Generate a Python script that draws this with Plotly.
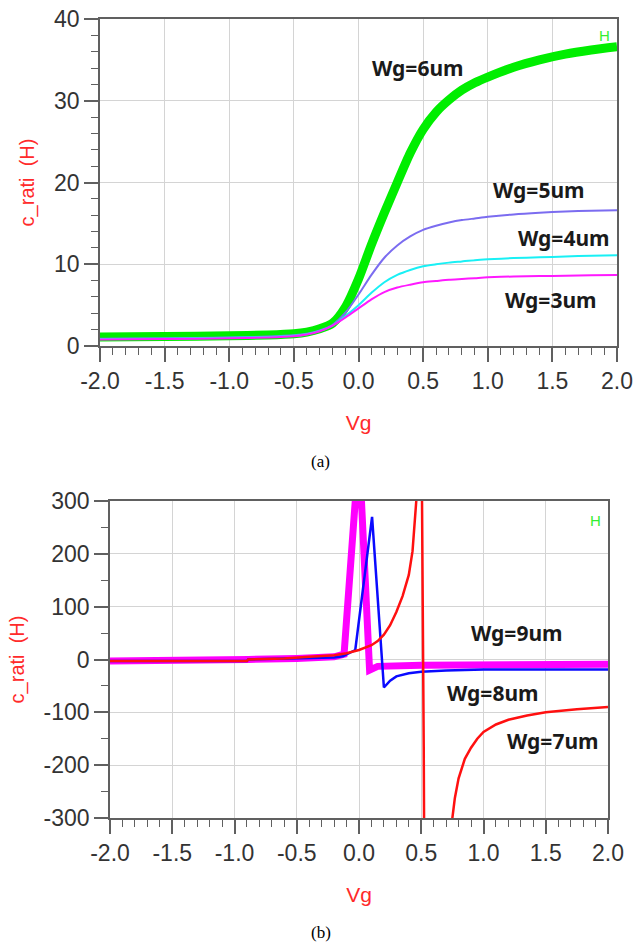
import plotly.graph_objects as go

# ---------------- data: panel (a) ----------------
vg_a = [-2.0, -1.5, -1.0, -0.7, -0.5, -0.4, -0.3, -0.2, -0.1, 0.0, 0.1, 0.2, 0.3,
        0.4, 0.5, 0.6, 0.7, 0.8, 0.9, 1.0, 1.2, 1.4, 1.6, 1.8, 2.0]
c_wg6 = [1.1, 1.15, 1.25, 1.35, 1.5, 1.7, 2.1, 2.8, 4.8, 8.2, 12.4, 16.3, 20.0,
         23.6, 26.5, 28.6, 30.1, 31.3, 32.2, 32.9, 34.1, 35.0, 35.7, 36.2, 36.6]
c_wg5 = [0.9, 0.95, 1.05, 1.15, 1.3, 1.5, 1.9, 2.6, 4.1, 6.3, 8.7, 10.8, 12.3,
         13.4, 14.2, 14.7, 15.1, 15.4, 15.6, 15.8, 16.1, 16.3, 16.45, 16.55, 16.6]
c_wg4 = [0.85, 0.9, 1.0, 1.1, 1.25, 1.45, 1.85, 2.5, 3.7, 5.0, 6.5, 7.8, 8.7,
         9.3, 9.75, 10.0, 10.2, 10.35, 10.5, 10.6, 10.75, 10.85, 10.95, 11.05, 11.1]
c_wg3 = [0.8, 0.85, 0.95, 1.05, 1.2, 1.4, 1.8, 2.5, 3.5, 4.6, 5.7, 6.6, 7.15,
         7.5, 7.8, 7.95, 8.1, 8.2, 8.3, 8.4, 8.5, 8.55, 8.6, 8.65, 8.7]

# ---------------- data: panel (b) ----------------
vg_wg9 = [-2.0, -0.9, -0.89, -0.5, -0.2, -0.12, 0.0, 0.085, 0.15, 0.5, 1.0, 2.0]
c_wg9 = [-3, -3, 0, 2, 5, 10, 397, -20, -13, -11, -10, -9]

vg_wg8 = [-2.0, -0.9, -0.89, -0.5, -0.2, -0.13, -0.03, 0.105, 0.2, 0.25, 0.3,
          0.4, 0.5, 0.7, 1.0, 1.5, 2.0]
c_wg8 = [-3, -3, 0, 2, 4, 6, 18, 270, -53, -40, -32, -26, -23, -21, -19, -19, -19]

vg_wg7 = [-2.0, -0.9, -0.89, -0.6, -0.4, -0.2, -0.1, 0.0, 0.1, 0.15, 0.2, 0.25,
          0.3, 0.35, 0.4, 0.43, 0.46, 0.50, 0.52, 0.54, 0.6, 0.7, 0.75, 0.77,
          0.8, 0.85, 0.9, 0.95, 1.0, 1.1, 1.2, 1.35, 1.5, 1.75, 2.0]
c_wg7 = [-3, -3, 0, 2, 5, 8, 12, 18, 27, 35, 47, 65, 90, 120, 160, 205, 300, 510,
         -170, -1200, -800, -420, -300, -262, -225, -188, -167, -150, -137, -123,
         -114, -106, -100, -94, -90]

# ---------------- ticks ----------------
x_tickvals = [-2.0, -1.5, -1.0, -0.5, 0.0, 0.5, 1.0, 1.5, 2.0]
x_ticktext = ["-2.0", "-1.5", "-1.0", "-0.5", "0.0", "0.5", "1.0", "1.5", "2.0"]
ya_tickvals = [0, 10, 20, 30, 40]
ya_ticktext = ["0", "10", "20", "30", "40"]
yb_tickvals = [-300, -200, -100, 0, 100, 200, 300]
yb_ticktext = ["-300", "-200", "-100", "0", "100", "200", "300"]

W, H = 635, 947
AXC = "#606060"
GRID = "#d4d4d4"
TICKFONT = dict(family="Liberation Sans, Arial", size=23, color="#333333")
TITLEFONT = dict(family="Liberation Sans, Arial", size=21, color="#ff2a2a")
LBLFONT = dict(family="Noto Sans, Liberation Sans, Arial", size=21, color="#1a1a1a")
HFONT = dict(family="Liberation Sans, Arial", size=15, color="#33ee33")

fig = go.Figure()

# panel (a) traces
spl = dict(shape="spline", smoothing=0.7)
fig.add_trace(go.Scatter(x=vg_a, y=c_wg6, mode="lines", line=dict(color="#00ee00", width=9, **spl),
                         xaxis="x", yaxis="y", name="Wg=6um"))
fig.add_trace(go.Scatter(x=vg_a, y=c_wg5, mode="lines", line=dict(color="#7b6cf0", width=2, **spl),
                         xaxis="x", yaxis="y", name="Wg=5um"))
fig.add_trace(go.Scatter(x=vg_a, y=c_wg4, mode="lines", line=dict(color="#19f0f5", width=2, **spl),
                         xaxis="x", yaxis="y", name="Wg=4um"))
fig.add_trace(go.Scatter(x=vg_a, y=c_wg3, mode="lines", line=dict(color="#ff19ff", width=2, **spl),
                         xaxis="x", yaxis="y", name="Wg=3um"))

# panel (b) traces
fig.add_trace(go.Scatter(x=vg_wg9, y=c_wg9, mode="lines", line=dict(color="#ff00ff", width=7),
                         xaxis="x2", yaxis="y2", name="Wg=9um"))
fig.add_trace(go.Scatter(x=vg_wg8, y=c_wg8, mode="lines", line=dict(color="#0a0aff", width=2.5),
                         xaxis="x2", yaxis="y2", name="Wg=8um"))
fig.add_trace(go.Scatter(x=vg_wg7, y=c_wg7, mode="lines", line=dict(color="#ff1010", width=2.5),
                         xaxis="x2", yaxis="y2", name="Wg=7um"))


def xaxis_cfg(domain, anchor):
    return dict(domain=domain, anchor=anchor, range=[-2, 2], tickmode="array",
                tickvals=x_tickvals, ticktext=x_ticktext, ticks="outside", ticklen=14,
                tickwidth=1.5, tickcolor=AXC, showline=True, linecolor=AXC, linewidth=1.5,
                mirror=True, showgrid=True, gridcolor=GRID, gridwidth=1.2, zeroline=False,
                tickfont=TICKFONT, automargin=False,
                minor=dict(tick0=-2, dtick=0.1, ticks="outside", ticklen=7, tickwidth=1.2,
                           tickcolor=AXC, showgrid=False),
                title=dict(text="Vg", font=TITLEFONT, standoff=22))


def yaxis_cfg(domain, anchor, rng, tv, tt, minor_dtick, minor_tick0):
    return dict(domain=domain, anchor=anchor, range=rng, tickmode="array",
                tickvals=tv, ticktext=tt, ticks="outside", ticklen=14,
                tickwidth=1.5, tickcolor=AXC, showline=True, linecolor=AXC, linewidth=1.5,
                mirror=True, showgrid=True, gridcolor=GRID, gridwidth=1.2, zeroline=False,
                tickfont=TICKFONT, automargin=False,
                minor=dict(tick0=minor_tick0, dtick=minor_dtick, ticks="outside", ticklen=7,
                           tickwidth=1.2, tickcolor=AXC, showgrid=False),
                title=dict(text="c_rati  (H)", font=dict(family="Liberation Sans, Arial", size=20, color="#ff2a2a"),
                           standoff=14))


fig.update_layout(
    width=W, height=H,
    margin=dict(l=0, r=0, t=0, b=0),
    paper_bgcolor="white", plot_bgcolor="white",
    showlegend=False,
    xaxis=xaxis_cfg([100 / W, 617 / W], "y"),
    yaxis=yaxis_cfg([1 - 346 / H, 1 - 19 / H], "x", [0, 40], ya_tickvals, ya_ticktext, 2, 0),
    xaxis2=xaxis_cfg([110 / W, 608 / W], "y2"),
    yaxis2=yaxis_cfg([1 - 818 / H, 1 - 501 / H], "x2", [-300, 300], yb_tickvals, yb_ticktext, 50, -300),
)

ann = [
    dict(x=0.46, y=34.0, xref="x", yref="y", text="<b>Wg=6um</b>", font=LBLFONT),
    dict(x=1.40, y=19.1, xref="x", yref="y", text="<b>Wg=5um</b>", font=LBLFONT),
    dict(x=1.59, y=13.2, xref="x", yref="y", text="<b>Wg=4um</b>", font=LBLFONT),
    dict(x=1.49, y=5.6, xref="x", yref="y", text="<b>Wg=3um</b>", font=LBLFONT),
    dict(x=1.90, y=38.0, xref="x", yref="y", text="H", font=HFONT),
    dict(x=1.27, y=50.8, xref="x2", yref="y2", text="<b>Wg=9um</b>", font=LBLFONT),
    dict(x=1.08, y=-64, xref="x2", yref="y2", text="<b>Wg=8um</b>", font=LBLFONT),
    dict(x=1.56, y=-154, xref="x2", yref="y2", text="<b>Wg=7um</b>", font=LBLFONT),
    dict(x=1.90, y=264, xref="x2", yref="y2", text="H", font=HFONT),
    dict(x=0.505, y=1 - 462 / H, xref="paper", yref="paper", text="(a)",
         font=dict(family="Liberation Serif, Times New Roman", size=17, color="#000000")),
    dict(x=0.505, y=1 - 932 / H, xref="paper", yref="paper", text="(b)",
         font=dict(family="Liberation Serif, Times New Roman", size=17, color="#000000")),
]
for a in ann:
    a.update(showarrow=False, xanchor="center", yanchor="middle")
fig.update_layout(annotations=ann)

fig.write_html("out.html")
